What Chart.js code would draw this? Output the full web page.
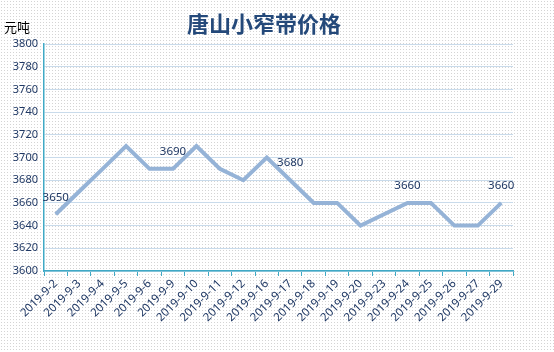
<!DOCTYPE html>
<html>
<head>
<meta charset="utf-8">
<script src="https://cdn.jsdelivr.net/npm/chart.js@4"></script>
<style>
  html, body { margin: 0; padding: 0; }
  body {
    width: 554px; height: 352px;
    background-color: #ffffff;
    background-image: radial-gradient(#d4d4d4 0.6px, transparent 0.8px);
    background-size: 3px 3px;
  }
  #wrap { position: relative; width: 554px; height: 352px; }
</style>
</head>
<body>
<div id="wrap"><canvas id="priceChart" width="554" height="352"></canvas></div>
<script>
// categories and prices (元/吨)
const dates = ['2019-9-2', '2019-9-3', '2019-9-4', '2019-9-5', '2019-9-6', '2019-9-9', '2019-9-10',
    '2019-9-11', '2019-9-12', '2019-9-16', '2019-9-17', '2019-9-18', '2019-9-19', '2019-9-20',
    '2019-9-23', '2019-9-24', '2019-9-25', '2019-9-26', '2019-9-27', '2019-9-29'];
const prices = [3650, 3670, 3690, 3710, 3690, 3690, 3710, 3690, 3680, 3700,
    3680, 3660, 3660, 3640, 3650, 3660, 3660, 3640, 3640, 3660];
const labeledPoints = [0, 5, 10, 15, 19];
const yMin = 3600, yMax = 3800, yStep = 20;

const navy = '#1f3864';
const teal = '#3fa9c5';

const titlePlugin = {
    id: 'titles',
    afterDraw(chart) {
        const ctx = chart.ctx;
        ctx.save();
        ctx.fillStyle = '#24497a';
        ctx.font = 'bold 22px "Noto Sans CJK SC"';
        ctx.textAlign = 'center';
        ctx.textBaseline = 'middle';
        ctx.fillText('唐山小窄带价格', 264, 24);
        ctx.fillStyle = '#000';
        ctx.font = '13px "Noto Sans CJK SC"';
        ctx.textAlign = 'left';
        ctx.fillText('元吨', 4, 27);

        // data labels
        const meta = chart.getDatasetMeta(0);
        ctx.fillStyle = navy;
        ctx.font = '11.5px "Noto Sans"';
        ctx.textAlign = 'center';
        labeledPoints.forEach(i => {
            const p = meta.data[i];
            ctx.fillText(String(prices[i]), p.x, p.y - 17);
        });
        ctx.restore();
    }
};

new Chart(document.getElementById('priceChart'), {
    type: 'line',
    data: {
        labels: dates,
        datasets: [{
            data: prices,
            borderColor: '#95b3d7',
            borderWidth: 4,
            pointRadius: 0,
            tension: 0,
            fill: false
        }]
    },
    options: {
        responsive: false,
        animation: false,
        devicePixelRatio: 1,
        layout: { padding: { left: 0, top: 44, right: 41, bottom: 0 } },
        plugins: { legend: { display: false }, tooltip: { enabled: false } },
        scales: {
            x: {
                offset: true,
                grid: { offset: true, drawOnChartArea: false, drawTicks: true, tickLength: 5, color: teal },
                border: { color: teal, width: 1.5 },
                ticks: {
                    color: navy, font: { family: 'Noto Sans', size: 11.5 },
                    minRotation: 45, maxRotation: 45, autoSkip: false, padding: 1
                },
                afterFit(scale) { scale.height = 81; }
            },
            y: {
                min: yMin, max: yMax,
                grid: { color: '#c9dbeb', drawTicks: false },
                border: { color: teal, width: 1.5 },
                ticks: {
                    stepSize: yStep, color: navy, padding: 6,
                    font: { family: 'Noto Sans', size: 11 },
                    callback: v => String(v)
                },
                afterFit(scale) { scale.width = 44; }
            }
        }
    },
    plugins: [titlePlugin]
});
</script>
</body>
</html>
